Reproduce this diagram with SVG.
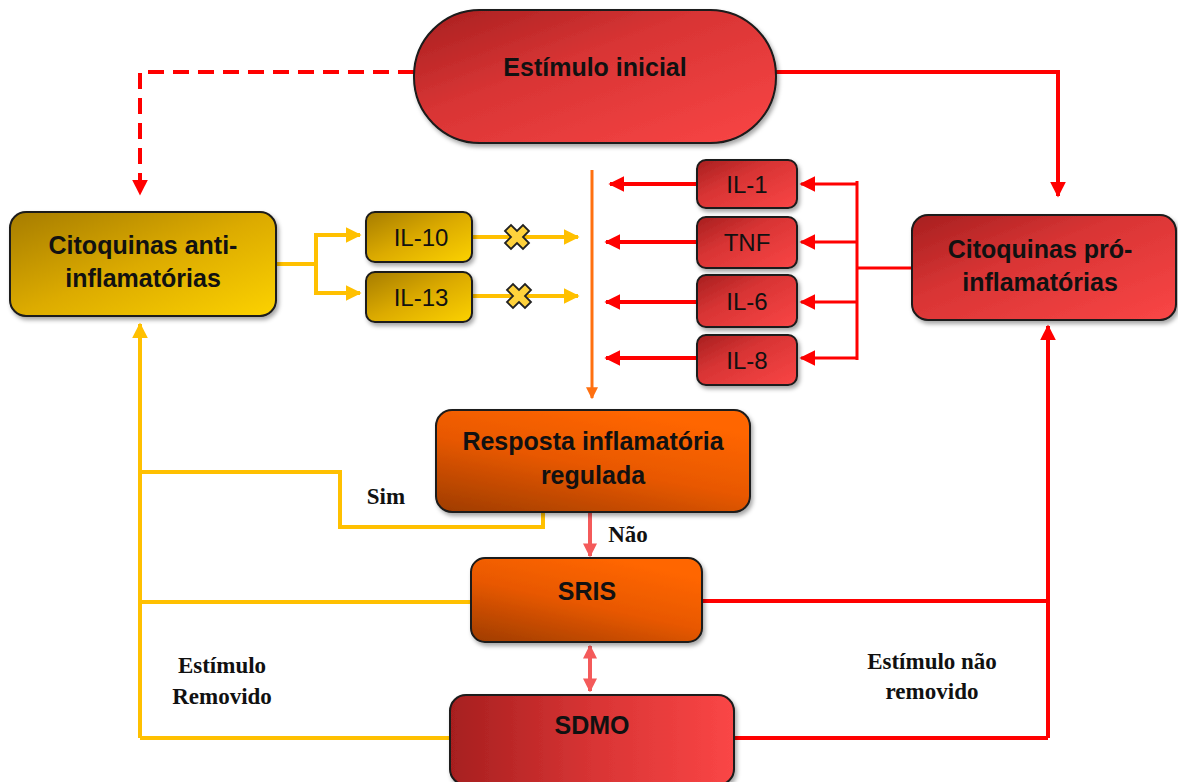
<svg xmlns="http://www.w3.org/2000/svg" width="1178" height="782" viewBox="0 0 1178 782">
<style>
.t{font-family:"Liberation Sans",Arial,sans-serif;font-weight:bold;font-size:25px;fill:#111;text-anchor:middle}
.s{font-family:"Liberation Sans",Arial,sans-serif;font-size:24px;fill:#111;text-anchor:middle}
.l{font-family:"Liberation Serif","Times New Roman",serif;font-weight:bold;font-size:23px;fill:#111;text-anchor:middle}
.box{stroke:#1a1a1a;stroke-width:2;filter:url(#sh)}
.red{fill:none;stroke:#ff0000;stroke-width:4}
.gold{fill:none;stroke:#ffc000;stroke-width:4}
</style>
<defs>
<filter id="sh" x="-10%" y="-10%" width="125%" height="130%"><feDropShadow dx="2" dy="3" stdDeviation="2" flood-color="#000" flood-opacity="0.35"/></filter>
<linearGradient id="gr" x1="0" y1="0" x2="1" y2="1"><stop offset="0" stop-color="#a61f1f"/><stop offset="0.4" stop-color="#d83434"/><stop offset="1" stop-color="#fa4646"/></linearGradient>
<linearGradient id="grh" x1="0" y1="0" x2="1" y2="0"><stop offset="0" stop-color="#a61f1f"/><stop offset="0.5" stop-color="#d83434"/><stop offset="1" stop-color="#fa4646"/></linearGradient>
<linearGradient id="gg" x1="0" y1="0" x2="1" y2="1"><stop offset="0" stop-color="#a67c00"/><stop offset="0.5" stop-color="#dcab00"/><stop offset="1" stop-color="#fcd200"/></linearGradient>
<linearGradient id="go" x1="0" y1="1" x2="0.6" y2="0"><stop offset="0" stop-color="#9e3c00"/><stop offset="0.55" stop-color="#e85800"/><stop offset="1" stop-color="#ff6600"/></linearGradient>
<marker id="ar" viewBox="0 0 10 10" refX="9" refY="5" markerUnits="userSpaceOnUse" markerWidth="16" markerHeight="16" orient="auto"><path d="M0,0 L10,5 L0,10 z" fill="#ff0000"/></marker>
<marker id="ag" viewBox="0 0 10 10" refX="9" refY="5" markerUnits="userSpaceOnUse" markerWidth="16" markerHeight="16" orient="auto"><path d="M0,0 L10,5 L0,10 z" fill="#ffc000"/></marker>
<marker id="ao" viewBox="0 0 10 10" refX="9" refY="5" markerUnits="userSpaceOnUse" markerWidth="12" markerHeight="14" orient="auto"><path d="M0,0 L10,5 L0,10 z" fill="#ff7010"/></marker>
<marker id="as" viewBox="0 0 10 10" refX="9" refY="5" markerUnits="userSpaceOnUse" markerWidth="14" markerHeight="14" orient="auto"><path d="M0,0 L10,5 L0,10 z" fill="#f45a5a"/></marker>
<marker id="as2" viewBox="0 0 10 10" refX="1" refY="5" markerUnits="userSpaceOnUse" markerWidth="14" markerHeight="14" orient="auto"><path d="M10,0 L0,5 L10,10 z" fill="#f45a5a"/></marker>
<path id="x" d="M-12,-6 L-6,-12 L0,-6 L6,-12 L12,-6 L6,0 L12,6 L6,12 L0,6 L-6,12 L-12,6 L-6,0 z" fill="#ffd23c" stroke="#222" stroke-width="1.8"/>
</defs>
<rect width="1178" height="782" fill="#fff"/>
<g id="connectors">
<path d="M414,72 H140 V194" fill="none" stroke="#ff0000" stroke-width="4" stroke-dasharray="16,9" marker-end="url(#ar)"/>
<path class="red" d="M776,72 H1058 V196" marker-end="url(#ar)"/>
<path class="gold" d="M276,264 H316 V235 H360" marker-end="url(#ag)"/>
<path class="gold" d="M316,264 V293 H360" marker-end="url(#ag)"/>
<path class="gold" d="M472,237 H578" marker-end="url(#ag)"/>
<path class="gold" d="M472,296 H578" marker-end="url(#ag)"/>
<use href="#x" x="517" y="237"/>
<use href="#x" x="519" y="296"/>
<path d="M592,170 V398" fill="none" stroke="#ff7010" stroke-width="3" marker-end="url(#ao)"/>
<path class="red" d="M697,184 H610" marker-end="url(#ar)"/>
<path class="red" d="M697,242 H606" marker-end="url(#ar)"/>
<path class="red" d="M697,302 H606" marker-end="url(#ar)"/>
<path class="red" d="M697,358 H606" marker-end="url(#ar)"/>
<path d="M912,268 H857 M857,181 V360" fill="none" stroke="#ff0000" stroke-width="3"/>
<path d="M857,184 H801" fill="none" stroke="#ff0000" stroke-width="3" marker-end="url(#ar)"/>
<path d="M857,242 H801" fill="none" stroke="#ff0000" stroke-width="3" marker-end="url(#ar)"/>
<path d="M857,302 H801" fill="none" stroke="#ff0000" stroke-width="3" marker-end="url(#ar)"/>
<path d="M857,358 H801" fill="none" stroke="#ff0000" stroke-width="3" marker-end="url(#ar)"/>
<path class="gold" d="M140,738 V324" marker-end="url(#ag)"/>
<path class="gold" d="M140,472 H340 V527 H543 V512"/>
<path class="gold" d="M140,602 H471"/>
<path class="gold" d="M140,738 H450"/>
<path class="red" d="M1048,738 V326" marker-end="url(#ar)"/>
<path class="red" d="M702,601 H1048"/>
<path class="red" d="M734,738 H1048"/>
<path d="M590,512 V556" fill="none" stroke="#f45a5a" stroke-width="4" marker-end="url(#as)"/>
<path d="M590,646 V691" fill="none" stroke="#f45a5a" stroke-width="4" marker-start="url(#as2)" marker-end="url(#as)"/>
<text class="l" x="386" y="504">Sim</text>
<text class="l" x="628" y="542">Não</text>
<text class="l" x="222" y="673">Estímulo</text>
<text class="l" x="222" y="704">Removido</text>
<text class="l" x="932" y="669">Estímulo não</text>
<text class="l" x="932" y="699">removido</text>
</g>
<g id="n-estimulo"><rect class="box" x="414" y="10" width="362" height="133" rx="66" fill="url(#gr)"/><text class="t" x="595" y="76">Estímulo inicial</text></g>
<g id="n-anti"><rect class="box" x="10" y="212" width="266" height="104" rx="16" fill="url(#gg)"/><text class="t" x="143" y="254">Citoquinas anti-</text><text class="t" x="143" y="287">inflamatórias</text></g>
<g id="n-il10"><rect class="box" x="366" y="212" width="106" height="50" rx="9" fill="url(#gg)"/><text class="s" x="421" y="246">IL-10</text></g>
<g id="n-il13"><rect class="box" x="366" y="272" width="106" height="50" rx="9" fill="url(#gg)"/><text class="s" x="421" y="306">IL-13</text></g>
<g id="n-il1"><rect class="box" x="697" y="160" width="100" height="48" rx="9" fill="url(#gr)"/><text class="s" x="747" y="193">IL-1</text></g>
<g id="n-tnf"><rect class="box" x="697" y="217" width="100" height="51" rx="9" fill="url(#gr)"/><text class="s" x="747" y="251">TNF</text></g>
<g id="n-il6"><rect class="box" x="697" y="275" width="100" height="52" rx="9" fill="url(#gr)"/><text class="s" x="747" y="310">IL-6</text></g>
<g id="n-il8"><rect class="box" x="697" y="335" width="100" height="50" rx="9" fill="url(#gr)"/><text class="s" x="747" y="369">IL-8</text></g>
<g id="n-pro"><rect class="box" x="912" y="215" width="264" height="105" rx="16" fill="url(#gr)"/><text class="t" x="1040" y="258">Citoquinas pró-</text><text class="t" x="1040" y="291">inflamatórias</text></g>
<g id="n-resposta"><rect class="box" x="436" y="410" width="314" height="102" rx="16" fill="url(#go)"/><text class="t" x="593" y="450">Resposta inflamatória</text><text class="t" x="593" y="484">regulada</text></g>
<g id="n-sris"><rect class="box" x="471" y="558" width="231" height="84" rx="14" fill="url(#go)"/><text class="t" x="587" y="600">SRIS</text></g>
<g id="n-sdmo"><rect class="box" x="450" y="695" width="284" height="90" rx="16" fill="url(#grh)"/><text class="t" x="592" y="734">SDMO</text></g>
</svg>
